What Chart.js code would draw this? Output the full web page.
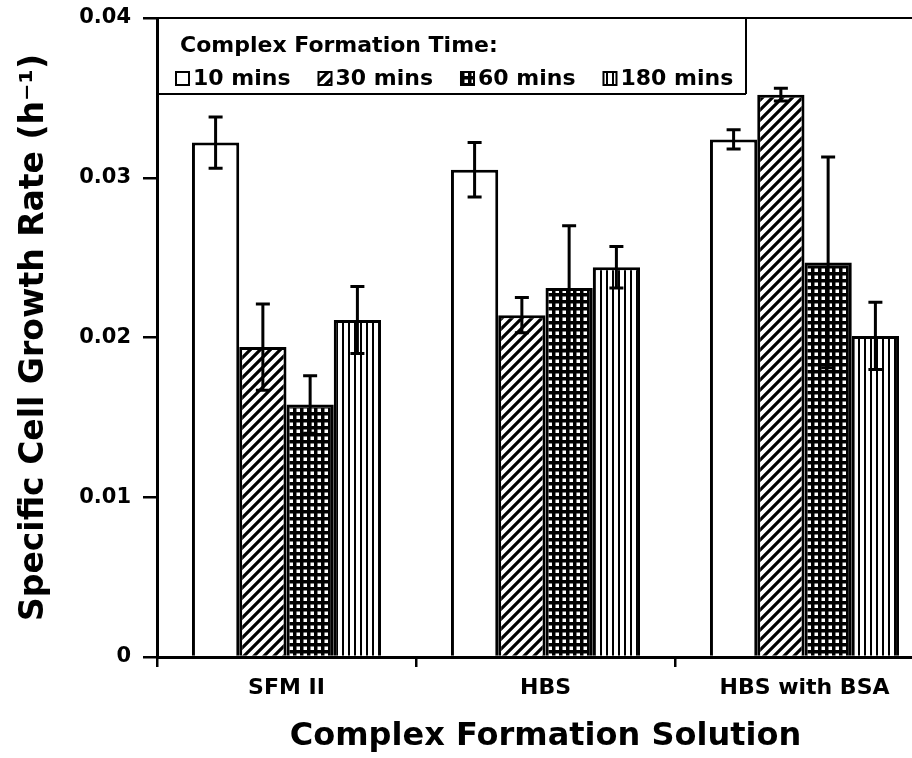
<!DOCTYPE html>
<html>
<head>
<meta charset="utf-8">
<script src="https://cdn.jsdelivr.net/npm/chart.js@4"></script>
<style>
  body { margin: 0; overflow: hidden; background: #fff; }
  #wrap { width: 934px; height: 758px; }
</style>
</head>
<body>
<div id="wrap"><canvas id="growthChart"></canvas></div>
<script>
// values
const solutions = ['SFM II', 'HBS', 'HBS with BSA'];
const times = ['10 mins', '30 mins', '60 mins', '180 mins'];

const rate10 = [0.0322, 0.0305, 0.0324];
const rate30 = [0.0194, 0.0214, 0.0352];
const rate60 = [0.0158, 0.0231, 0.0247];
const rate180 = [0.0211, 0.0244, 0.0201];

const err10 = [0.0016, 0.0017, 0.0006];
const err30 = [0.0027, 0.0011, 0.0004];
const err60 = [0.0018, 0.0039, 0.0066];
const err180 = [0.0021, 0.0013, 0.0021];

const yTickLabels = ['0', '0.01', '0.02', '0.03', '0.04'];

Chart.defaults.font.family = "'DejaVu Sans', sans-serif";
Chart.defaults.font.weight = 'bold';
Chart.defaults.color = '#000';

function makePattern(kind) {
    const c = document.createElement('canvas');
    const g = c.getContext('2d');
    if (kind === 'diag') {
        c.width = c.height = 10;
        g.fillStyle = '#fff';
        g.fillRect(0, 0, 10, 10);
        g.strokeStyle = '#000';
        g.lineWidth = 3.2;
        g.beginPath();
        g.moveTo(-5, 15); g.lineTo(15, -5);
        g.moveTo(-5, 5); g.lineTo(5, -5);
        g.moveTo(5, 15); g.lineTo(15, 5);
        g.stroke();
    } else if (kind === 'grid') {
        c.width = c.height = 7;
        g.fillStyle = '#000';
        g.fillRect(0, 0, 7, 7);
        g.fillStyle = '#fff';
        g.fillRect(2.5, 2.5, 3.5, 3.5);
    } else if (kind === 'vert') {
        c.width = 6; c.height = 4;
        g.fillStyle = '#fff';
        g.fillRect(0, 0, 6, 4);
        g.fillStyle = '#000';
        g.fillRect(0, 0, 2, 4);
    } else {
        c.width = c.height = 4;
        g.fillStyle = '#fff';
        g.fillRect(0, 0, 4, 4);
    }
    return g.createPattern(c, 'repeat');
}

const fills = [makePattern('plain'), makePattern('diag'), makePattern('grid'), makePattern('vert')];
const rates = [rate10, rate30, rate60, rate180];
const errors = [err10, err30, err60, err180];

// error bars drawn through the y scale
const errorBars = {
    id: 'errorBars',
    afterDatasetsDraw(chart) {
        const ctx = chart.ctx;
        const y = chart.scales.y;
        ctx.save();
        ctx.strokeStyle = '#000';
        ctx.lineWidth = 3;
        chart.data.datasets.forEach((ds, i) => {
            const meta = chart.getDatasetMeta(i);
            meta.data.forEach((bar, j) => {
                const v = ds.data[j], e = ds.errors[j];
                const top = y.getPixelForValue(v + e);
                const bot = y.getPixelForValue(v - e);
                ctx.beginPath();
                ctx.moveTo(bar.x, top); ctx.lineTo(bar.x, bot);
                ctx.moveTo(bar.x - 7, top); ctx.lineTo(bar.x + 7, top);
                ctx.moveTo(bar.x - 7, bot); ctx.lineTo(bar.x + 7, bot);
                ctx.stroke();
            });
        });
        ctx.restore();
    }
};

// boxed legend in the top left corner + top frame line
const boxLegend = {
    id: 'boxLegend',
    afterDraw(chart) {
        const ctx = chart.ctx;
        const a = chart.chartArea;
        const boxR = a.left + 589, boxB = a.top + 76;
        ctx.save();
        ctx.strokeStyle = '#000';
        ctx.lineWidth = 2;
        ctx.beginPath();
        ctx.moveTo(a.left, a.top); ctx.lineTo(a.right, a.top);
        ctx.moveTo(boxR, a.top); ctx.lineTo(boxR, boxB);
        ctx.moveTo(a.left, boxB); ctx.lineTo(boxR, boxB);
        ctx.stroke();

        ctx.fillStyle = '#000';
        ctx.font = "bold 22px 'DejaVu Sans'";
        ctx.textBaseline = 'alphabetic';
        ctx.fillText('Complex Formation Time:', a.left + 23, a.top + 34);

        let x = a.left + 19;
        const rowY = a.top + 67;
        chart.data.datasets.forEach(ds => {
            ctx.fillStyle = ds.backgroundColor;
            ctx.fillRect(x, rowY - 13, 13, 13);
            ctx.lineWidth = 2;
            ctx.strokeRect(x, rowY - 13, 13, 13);
            ctx.fillStyle = '#000';
            ctx.fillText(ds.label, x + 17, rowY);
            x += 17 + ctx.measureText(ds.label).width + 28;
        });
        ctx.restore();
    }
};

new Chart(document.getElementById('growthChart'), {
    type: 'bar',
    data: {
        labels: solutions,
        datasets: times.map((t, i) => ({
            label: t,
            data: rates[i],
            errors: errors[i],
            backgroundColor: fills[i],
            borderColor: '#000',
            borderWidth: 3,
            barPercentage: 1,
            categoryPercentage: 0.73
        }))
    },
    options: {
        responsive: true,
        maintainAspectRatio: false,
        animation: false,
        layout: { padding: { top: 18, right: 0, bottom: 0, left: 0 } },
        plugins: {
            legend: { display: false },
            tooltip: { enabled: false }
        },
        scales: {
            x: {
                grid: { drawOnChartArea: false, tickLength: 10, color: '#000', lineWidth: 2.5, offset: true },
                border: { color: '#000', width: 3 },
                ticks: { font: { size: 22 }, padding: 8 },
                title: {
                    display: true,
                    text: 'Complex Formation Solution',
                    font: { size: 32 },
                    padding: { top: 0, bottom: 2 }
                },
                afterFit(s) { s.height = 101; }
            },
            y: {
                min: 0,
                max: 0.04,
                grid: { drawOnChartArea: false, tickLength: 14, color: '#000', lineWidth: 2.5 },
                border: { color: '#000', width: 3 },
                ticks: {
                    stepSize: 0.01,
                    padding: 12,
                    font: { size: 21, lineHeight: 0.5 },
                    callback: (v, i) => yTickLabels[i]
                },
                title: {
                    display: true,
                    text: 'Specific Cell Growth Rate (h\u207B\u00B9)',
                    font: { size: 33 },
                    padding: { top: 15, bottom: 0 }
                },
                afterFit(s) { s.width = 157; }
            }
        }
    },
    plugins: [errorBars, boxLegend]
});
</script>
</body>
</html>
